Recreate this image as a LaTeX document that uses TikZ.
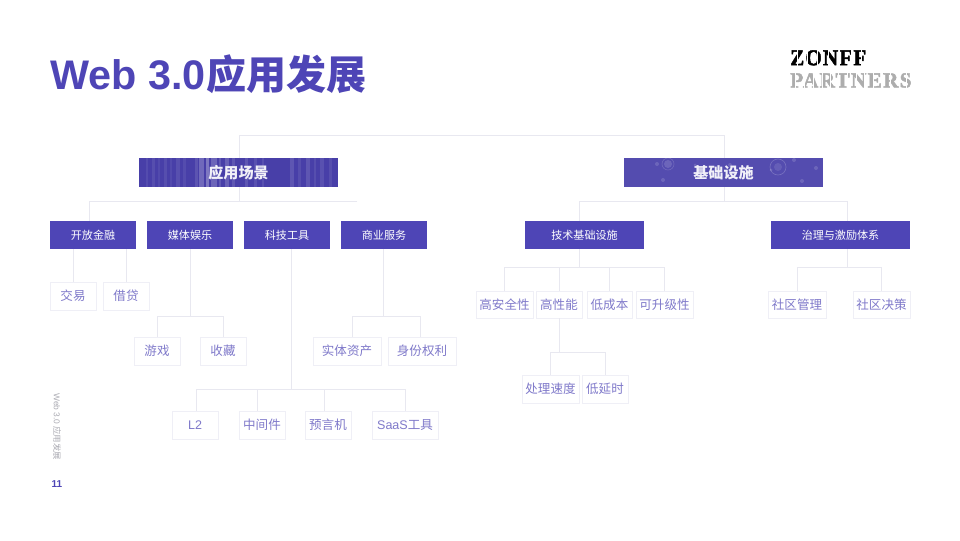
\documentclass[tikz,border=0pt]{standalone}
\usepackage{fontspec}
\usepackage{graphicx}
\setmainfont{Noto Sans CJK SC}
\newfontfamily\lat{Liberation Sans}
\newfontfamily\logofont[BoldFeatures={FakeBold=2.2},LetterSpace=6]{Liberation Serif}
\definecolor{indigo}{HTML}{4E45B6}
\definecolor{linkc}{HTML}{E8E8F0}
\definecolor{leafline}{HTML}{EFEFF6}
\definecolor{leaftext}{HTML}{7F79CA}
\definecolor{sidegrey}{HTML}{ABABB3}
\newcommand{\fsz}[1]{\fontsize{#1}{#1}\selectfont}
\tikzset{
  x=0.75pt,y=-0.75pt,
  link/.style={draw=linkc,line width=0.75pt},
  boxbase/.style={anchor=north west,inner sep=0pt,outer sep=0pt,align=center},
  cat/.style={boxbase,fill=indigo,text=white,font=\fsz{8.3}},
  leaf/.style={boxbase,draw=leafline,line width=0.75pt,fill=white,text=leaftext,font=\fsz{9.4}},
  banner/.style={boxbase,text=white,font=\bfseries\fsz{11.3},minimum height=21.75pt,minimum width=149.25pt,text opacity=0.92}
}
\newcommand{\catbox}[6]{\node[cat,minimum width=#4*0.75pt,minimum height=#5*0.75pt] (#1) at (#2,#3) {#6};}
\newcommand{\leafbox}[6]{\node[leaf,minimum width=#4*0.75pt,minimum height=#5*0.75pt] (#1) at (#2,#3) {#6};}
\begin{document}
\begin{tikzpicture}
\useasboundingbox (0,0) rectangle (960,540);
\fill[white] (0,0) rectangle (960,540);

% title
\node[anchor=west,inner sep=0pt,text=indigo,font=\bfseries\fsz{31}] (title) at (50,74) {{\lat\bfseries Web\ 3.0}\hspace{0.5pt}\fsz{30}应用发展};

% logo
\node[anchor=north west,inner sep=0pt,text=black] (logoa) at (790,50) {\resizebox{57pt}{11.2pt}{\logofont\bfseries ZONFF}};
\node[anchor=north west,inner sep=0pt,text=black!32] (logob) at (790,73) {\resizebox{91pt}{10.6pt}{\logofont\bfseries PARTNERS}};
\foreach \x in {797,807,817,828,839,851,861}
  \draw[white,line width=0.4pt] (\x,49) -- (\x,66);
\foreach \x in {795,804,813,822,830,838,847,856,864,873,881,890,899,906}
  \draw[white,line width=0.4pt] (\x,72) -- (\x,88);

% banner textures
\begin{scope}
  \clip (139,158) rectangle (338,187);
  \fill[indigo!92!black] (139,158) rectangle (338,187);
  \foreach \x/\w/\o in {146/2/7,152/3/8,158/2/6,164/3/8,170/2/6,176/4/9,183/3/7,195/3/11,199/5/22,206/3/30,211/6/20,219/2/14,225/4/18,232/3/12,245/3/12,254/3/10,262/2/9,290/4/12,298/3/8,306/4/12,314/2/8,320/4/10,329/3/8}
    \fill[white,opacity=\o/100] (\x,158) rectangle ++(\w,29);
\end{scope}
\begin{scope}
  \clip (624,158) rectangle (823,187);
  \fill[indigo!88!gray] (624,158) rectangle (823,187);
  \foreach \x/\y/\r in {668/164/4,657/164/2,695/165/1.5,663/180/2,730/165/2,771/170/1.5,794/160/2,802/181/2,816/168/2,745/175/2}
    \fill[white,opacity=.14] (\x,\y) circle[radius=\r];
  \draw[white,opacity=.2,line width=.5pt] (778,167) circle[radius=8];
  \draw[white,opacity=.16,line width=.5pt] (668,164) circle[radius=6];
  \fill[white,opacity=.1] (778,167) circle[radius=4];
\end{scope}
\node[banner] (scene) at (139,158) {应用场景};
\node[banner] (infra) at (624,158) {基础设施};

% level 2
\catbox{a1}{50}{221}{86}{28}{开放金融}
\catbox{a2}{147}{221}{86}{28}{媒体娱乐}
\catbox{a3}{244}{221}{86}{28}{科技工具}
\catbox{a4}{341}{221}{86}{28}{商业服务}
\catbox{b1}{525}{221}{119}{28}{技术基础设施}
\catbox{b2}{771}{221}{139}{28}{治理与激励体系}

% leaves
\leafbox{l1}{50}{282}{46}{28}{交易}
\leafbox{l2}{103}{282}{46}{28}{借贷}
\leafbox{l3}{134}{337}{46}{28}{游戏}
\leafbox{l4}{200}{337}{46}{28}{收藏}
\leafbox{l5}{313}{337}{68}{28}{实体资产}
\leafbox{l6}{388}{337}{68}{28}{身份权利}
\leafbox{l7}{172}{411}{46}{28}{\lat L2}
\leafbox{l8}{239}{411}{46}{28}{中间件}
\leafbox{l9}{305}{411}{46}{28}{预言机}
\leafbox{l10}{372}{411}{66}{28}{{\lat SaaS}工具}
\leafbox{m1}{476}{291}{57}{27}{高安全性}
\leafbox{m2}{536}{291}{46}{27}{高性能}
\leafbox{m3}{587}{291}{45}{27}{低成本}
\leafbox{m4}{636}{291}{57}{27}{可升级性}
\leafbox{m5}{522}{375}{57}{28}{处理速度}
\leafbox{m6}{582}{375}{46}{28}{低延时}
\leafbox{n1}{768}{291}{58}{27}{社区管理}
\leafbox{n2}{853}{291}{57}{27}{社区决策}

% connectors
\coordinate (sceneTop) at ([xshift=0.4pt]scene.north);
\coordinate (infraTop) at ([xshift=1.1pt]infra.north);
\coordinate (sceneBot) at ([xshift=0.4pt]scene.south);
\coordinate (infraBot) at ([xshift=1.1pt]infra.south);
\coordinate (busEnd) at (357,201);
\draw[link] (sceneTop) |- (infraTop |- 0,135) -- (infraTop);
\draw[link] (sceneBot) -- (sceneBot |- 0,201);
\draw[link] (busEnd) -- ([xshift=-3pt]a1.north |- 0,201) -- ([xshift=-3pt]a1.north);
\draw[link] (infraBot) -- (infraBot |- 0,201);
\coordinate (b1top) at ([xshift=-4pt]b1.north);
\coordinate (b1bot) at ([xshift=-4pt]b1.south);
\coordinate (b2top) at ([xshift=5.6pt]b2.north);
\coordinate (b2bot) at ([xshift=5.6pt]b2.south);
\draw[link] (b1top) |- (b2top |- 0,201) -- (b2top);

% first-level children
\draw[link] (l1.north |- a1.south) -- (l1.north);
\draw[link] (l2.north |- a1.south) -- (l2.north);
\coordinate (a3s) at ([xshift=3pt]a3.south);
\coordinate (a4s) at ([xshift=-0.75pt]a4.south);
\coordinate (l5top) at ([xshift=3.75pt]l5.north);
\coordinate (l6top) at ([xshift=-1.5pt]l6.north);
\foreach \p/\h/\cs in {a2.south/316/{l3.north,l4.north},a4s/316/{l5top,l6top},b1bot/267/{m1.north,m2.north,m3.north,m4.north},m2.south/352/{m5.north,m6.north},b2bot/267/{n1.north,n2.north}}{
  \draw[link] (\p) -- (\p |- 0,\h);
  \foreach \c in \cs
    \draw[link] (\p |- 0,\h) -| (\c);
}
\draw[link] (a3s) -- (a3s |- 0,389);
\foreach \c/\s in {l7/0.75pt,l8/-3.5pt,l9/-3pt,l10/0pt}
  \draw[link] (a3s |- 0,389) -| ([xshift=\s]\c.north);

% side text
\node[rotate=-90,anchor=west,inner sep=0pt,text=sidegrey,font=\fsz{6.3}] (side) at (57,393) {{\lat Web\ 3.0}\ 应用发展};
\node[inner sep=0pt,text=indigo,font=\lat\bfseries\fsz{7.5}] (pageno) at (57,484) {11};
\end{tikzpicture}
\end{document}
